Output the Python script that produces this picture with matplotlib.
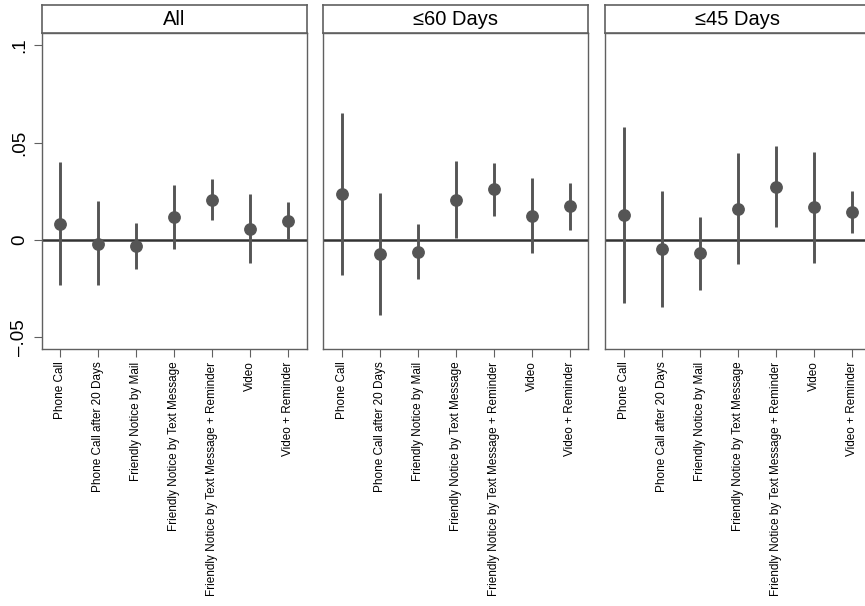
import numpy as np
import matplotlib.pyplot as plt

plt.rcParams["font.family"] = ["Liberation Sans", "DejaVu Sans"]

treatments = [
    "Phone Call",
    "Phone Call after 20 Days",
    "Friendly Notice by Mail",
    "Friendly Notice by Text Message",
    "Friendly Notice by Text Message + Reminder",
    "Video",
    "Video + Reminder",
]
panel_titles = ["All", "\u226460 Days", "\u226445 Days"]

# point estimates and 95% CI bounds, one list per panel
est_all = [0.0081, -0.0021, -0.0033, 0.0116, 0.0207, 0.0058, 0.0098]
lo_all = [-0.0231, -0.0231, -0.0147, -0.0048, 0.0103, -0.0118, 0.0003]
hi_all = [0.0399, 0.0199, 0.0087, 0.0283, 0.0312, 0.0235, 0.0195]

est_60 = [0.0238, -0.0072, -0.0060, 0.0207, 0.0260, 0.0125, 0.0173]
lo_60 = [-0.0180, -0.0385, -0.0200, 0.0010, 0.0123, -0.0069, 0.0051]
hi_60 = [0.0654, 0.0243, 0.0082, 0.0408, 0.0394, 0.0320, 0.0295]

est_45 = [0.0128, -0.0046, -0.0069, 0.0159, 0.0274, 0.0168, 0.0144]
lo_45 = [-0.0322, -0.0343, -0.0257, -0.0123, 0.0069, -0.0120, 0.0038]
hi_45 = [0.0579, 0.0252, 0.0120, 0.0445, 0.0483, 0.0450, 0.0252]

panels = [
    (est_all, lo_all, hi_all),
    (est_60, lo_60, hi_60),
    (est_45, lo_45, hi_45),
]

mark_color = "#555555"
frame_color = "#606060"

fig = plt.figure(figsize=(8.65, 6.06), dpi=100)
lefts = [41.7 / 865, 323.3 / 865, 605.3 / 865]
width = 265 / 865
bottom = 1 - 349 / 606
height = (349 - 33.3) / 606
head_bottom = 1 - 32.7 / 606
head_height = (32.7 - 4.7) / 606

x = np.arange(1, len(treatments) + 1)

for i, (est, lo, hi) in enumerate(panels):
    ax = fig.add_axes([lefts[i], bottom, width, height])
    ax.axhline(0, color="#333333", linewidth=1.8, zorder=1)
    ax.vlines(x, lo, hi, color=mark_color, linewidth=2.1, zorder=2)
    ax.plot(x, est, "o", color=mark_color, markersize=8.2, zorder=3)
    ax.set_xlim(0.52, 7.48)
    ax.set_ylim(-0.056, 0.1062)
    ax.set_xticks(x)
    ax.set_xticklabels(treatments, rotation=90, fontsize=8.5)
    for s in ax.spines.values():
        s.set_color(frame_color)
        s.set_linewidth(1.0)
    ax.tick_params(axis="x", length=6, color=frame_color, pad=3)
    if i == 0:
        ax.set_yticks([-0.05, 0, 0.05, 0.1])
        ax.set_yticklabels(["\u2013.05", "0", ".05", ".1"], rotation=90,
                           va="center", fontsize=13.5)
        ax.tick_params(axis="y", length=6, color=frame_color, pad=4)
    else:
        ax.set_yticks([])

    # title strip above each panel
    hax = fig.add_axes([lefts[i], head_bottom, width, head_height])
    hax.set_xticks([])
    hax.set_yticks([])
    for s in hax.spines.values():
        s.set_color(frame_color)
        s.set_linewidth(1.2)
    hax.text(0.5, 0.47, panel_titles[i], ha="center", va="center",
             fontsize=14.5, transform=hax.transAxes)

fig.savefig("out.png", dpi=100)
